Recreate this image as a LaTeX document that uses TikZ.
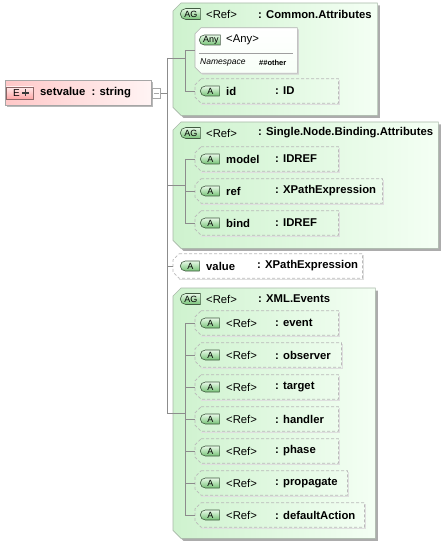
\documentclass[tikz,border=0pt]{standalone}
\usepackage{fontspec}
\setmainfont{Liberation Sans}
\usetikzlibrary{shapes.misc,shadows}

\definecolor{grpleft}{RGB}{206,242,206}
\definecolor{grpright}{RGB}{244,255,244}
\definecolor{grpline}{RGB}{168,184,168}
\definecolor{badgetop}{RGB}{232,250,232}
\definecolor{badgebot}{RGB}{118,194,118}
\definecolor{badgeline}{RGB}{66,90,66}
\definecolor{elemleft}{RGB}{255,200,200}
\definecolor{elemright}{RGB}{255,244,244}

\begin{document}
\begin{tikzpicture}[x=1pt, y=-1pt,
  txt/.style={anchor=west, inner sep=0pt, font=\bfseries\fontsize{11.3}{13}\selectfont},
  reftxt/.style={anchor=west, inner sep=0pt, font=\fontsize{11.3}{13}\selectfont},
  badge/.style={rounded rectangle, rounded rectangle right arc=none, draw=badgeline, line width=0.6pt,
    top color=badgetop, bottom color=badgebot, inner sep=0pt, minimum height=10pt, minimum width=19pt,
    anchor=west, font=\fontsize{9}{10}\selectfont},
  grp/.style={rectangle, inner sep=0pt, anchor=north west},
  attr/.style={rectangle, inner sep=0pt, anchor=west, minimum height=24pt},
  grpedge/.style={draw=grpline, line width=0.6pt, left color=grpleft, right color=grpright,
    drop shadow={shadow xshift=2.5pt, shadow yshift=-2.5pt, fill=gray!65, opacity=1}},
  attredge/.style={draw=gray!55, line width=0.7pt, dash pattern=on 3pt off 2pt},
  attrshade/.style={draw=gray!25, line width=0.9pt},
  wire/.style={draw=gray!90, line width=0.6pt}]
\useasboundingbox (0,0) rectangle (445,545);

% root element
\node[draw=gray!70, line width=0.6pt, left color=elemleft, right color=elemright, inner sep=0pt,
  minimum width=146pt, minimum height=25pt, anchor=west,
  drop shadow={shadow xshift=2pt, shadow yshift=-2pt, fill=gray!55, opacity=1}] (setvalue) at (5,93) {};
\node[draw=red!25!black!60, line width=0.6pt, top color=red!8, bottom color=red!35, inner sep=0pt,
  minimum width=27pt, minimum height=12pt, anchor=west] (ebadge) at (6,93) {};
\node[anchor=west, inner sep=0pt, font=\fontsize{10}{11}\selectfont] (eltr) at (13,93.5) {E};
\draw[line width=1.6pt, gray!45!black] (ebadge.east) ++(-8,0) coordinate (plus) ++(-3.5,0) -- ++(7,0) (plus) ++(0,-3.5) -- ++(0,7);
\node[txt] (setvalueN) at (40,93) {setvalue~ : string};
\node[draw=gray!70, fill=white, line width=0.6pt, inner sep=0pt, minimum width=8pt, minimum height=10pt, anchor=west] (conn) at (152,93) {};
\draw[gray!70, line width=0.7pt] (conn.center) ++(-2.5,0) -- ++(5,0);

% groups
\node[grp, minimum width=204pt, minimum height=112pt] (common) at (173,3) {};
\node[grp, minimum width=265pt, minimum height=126pt] (single) at (173,122) {};
\node[grp, minimum width=202pt, minimum height=250pt] (events) at (173,288) {};
\foreach \g in {common,single,events}
  \draw[grpedge] ([xshift=8pt]\g.north west) -- (\g.north east) -- (\g.south east) -- ([xshift=8pt]\g.south west)
    -- ([yshift=8pt]\g.south west) -- ([yshift=-8pt]\g.north west) -- cycle;

\node[badge, minimum width=20pt, minimum height=11pt] (commonAG) at (180,14) {AG};
\node[reftxt] (commonN) at (206,14) {\textless Ref\textgreater};
\node[txt] (commonT) at (258,14) {: Common.Attributes};
\node[badge, minimum width=20pt, minimum height=11pt] (singleAG) at (180,133) {AG};
\node[reftxt] (singleN) at (206,133) {\textless Ref\textgreater};
\node[txt] (singleT) at (258,133) {: Single.Node.Binding.Attributes};
\node[badge, minimum width=20pt, minimum height=11pt] (eventsAG) at (180,299) {AG};
\node[reftxt] (eventsN) at (206,299) {\textless Ref\textgreater};
\node[txt] (eventsT) at (258,299) {: XML.Events};

% any element
\node[attr, minimum width=102pt, minimum height=45pt] (anyelem) at (195,50.5) {};
\draw[draw=gray!60, line width=0.6pt, top color=white, bottom color=green!3,
  drop shadow={shadow xshift=1.5pt, shadow yshift=-1.5pt, fill=gray!35, opacity=1}]
  ([xshift=6pt]anyelem.north west) -- (anyelem.north east) -- (anyelem.south east) -- ([xshift=6pt]anyelem.south west)
  -- ([yshift=6pt]anyelem.south west) -- ([yshift=-6pt]anyelem.north west) -- cycle;
\node[badge, minimum width=21pt] (anyA) at (199,40) {Any};
\node[reftxt] (anyN) at (226,39.5) {\textless Any\textgreater};
\draw[gray!75, line width=0.6pt] (199,53) -- (293,53);
\node[anchor=west, inner sep=0pt, font=\itshape\fontsize{8.5}{9}\selectfont] (anyNs) at (200,62.5) {Namespace};
\node[anchor=west, inner sep=0pt, font=\bfseries\fontsize{7.5}{9}\selectfont] (anyOther) at (259,62.5) {\#\#other};

% attributes
\node[attr, minimum width=143pt] (id) at (195,91) {}; \node[badge] (idA) at (200,91) {A}; \node[txt] (idN) at (226,91) {id}; \node[txt] (idT) at (275,91) {: ID};
\node[attr, minimum width=143pt] (model) at (195,159) {}; \node[badge] (modelA) at (200,159) {A}; \node[txt] (modelN) at (226,159) {model}; \node[txt] (modelT) at (275,159) {: IDREF};
\node[attr, minimum width=187pt] (ref) at (195,191) {}; \node[badge] (refA) at (200,191) {A}; \node[txt] (refN) at (226,191) {ref}; \node[txt] (refT) at (275,191) {: XPathExpression};
\node[attr, minimum width=143pt] (bind) at (195,223) {}; \node[badge] (bindA) at (200,223) {A}; \node[txt] (bindN) at (226,223) {bind}; \node[txt] (bindT) at (275,223) {: IDREF};
\node[attr, minimum width=189pt] (value) at (173,266) {}; \node[badge] (valueA) at (180,266) {A}; \node[txt] (valueN) at (206,266) {value}; \node[txt] (valueT) at (257,266) {: XPathExpression};

\node[attr, minimum width=143pt] (event) at (195,323) {}; \node[badge] (eventA) at (200,323) {A}; \node[reftxt] (eventN) at (226,323) {\textless Ref\textgreater}; \node[txt] (eventT) at (275,323) {: event};
\node[attr, minimum width=146pt] (observer) at (195,355) {}; \node[badge] (observerA) at (200,355) {A}; \node[reftxt] (observerN) at (226,355) {\textless Ref\textgreater}; \node[txt] (observerT) at (275,355) {: observer};
\node[attr, minimum width=143pt] (target) at (195,387) {}; \node[badge] (targetA) at (200,387) {A}; \node[reftxt] (targetN) at (226,387) {\textless Ref\textgreater}; \node[txt] (targetT) at (275,387) {: target};
\node[attr, minimum width=143pt] (handler) at (195,419) {}; \node[badge] (handlerA) at (200,419) {A}; \node[reftxt] (handlerN) at (226,419) {\textless Ref\textgreater}; \node[txt] (handlerT) at (275,419) {: handler};
\node[attr, minimum width=143pt] (phase) at (195,451) {}; \node[badge] (phaseA) at (200,451) {A}; \node[reftxt] (phaseN) at (226,451) {\textless Ref\textgreater}; \node[txt] (phaseT) at (275,451) {: phase};
\node[attr, minimum width=152pt] (propagate) at (195,483) {}; \node[badge] (propagateA) at (200,483) {A}; \node[reftxt] (propagateN) at (226,483) {\textless Ref\textgreater}; \node[txt] (propagateT) at (275,483) {: propagate};
\node[attr, minimum width=169pt] (defaultAction) at (195,515) {}; \node[badge] (defaultActionA) at (200,515) {A}; \node[reftxt] (defaultActionN) at (226,515) {\textless Ref\textgreater}; \node[txt] (defaultActionT) at (275,515) {: defaultAction};

% dashed outlines of the attributes
\foreach \a in {id,model,ref,bind,value,event,observer,target,handler,phase,propagate,defaultAction} {
  \draw[attrshade] ([shift={(1.2pt,-1.5pt)}]\a.north east) -- ([shift={(1.2pt,-1.2pt)}]\a.south east) -- ([shift={(6pt,-1.2pt)}]\a.south west);
  \draw[attredge] ([xshift=6pt]\a.north west) -- (\a.north east) -- (\a.south east) -- ([xshift=6pt]\a.south west)
    -- ([yshift=6pt]\a.south west) -- ([yshift=-6pt]\a.north west) -- cycle;
}

% connectors
\coordinate (tTop) at (167,58);
\coordinate (tBot) at (167,413);
\draw[wire] (conn.east) -- (conn.east -| tTop);
\draw[wire] (tTop) -- (tBot);
\draw[wire] (tTop) -- (185,58);
\draw[wire] (anyelem.west -| 185,0) -- (id.west -| 185,0);
\draw[wire] (anyelem.west -| 185,0) -- (anyelem.west);
\draw[wire] (id.west -| 185,0) -- (id.west);
\draw[wire] (tTop |- single.west) -- (single.west -| 185,0);
\draw[wire] (model.west -| 185,0) -- (bind.west -| 185,0);
\draw[wire] (model.west -| 185,0) -- (model.west);
\draw[wire] (ref.west -| 185,0) -- (ref.west);
\draw[wire] (bind.west -| 185,0) -- (bind.west);
\draw[wire] (tTop |- value.west) -- (value.west);
\draw[wire] (tBot) -- (185,413);
\draw[wire] (event.west -| 185,0) -- (defaultAction.west -| 185,0);
\draw[wire] (event.west -| 185,0) -- (event.west);
\draw[wire] (observer.west -| 185,0) -- (observer.west);
\draw[wire] (target.west -| 185,0) -- (target.west);
\draw[wire] (handler.west -| 185,0) -- (handler.west);
\draw[wire] (phase.west -| 185,0) -- (phase.west);
\draw[wire] (propagate.west -| 185,0) -- (propagate.west);
\draw[wire] (defaultAction.west -| 185,0) -- (defaultAction.west);
\end{tikzpicture}
\end{document}
